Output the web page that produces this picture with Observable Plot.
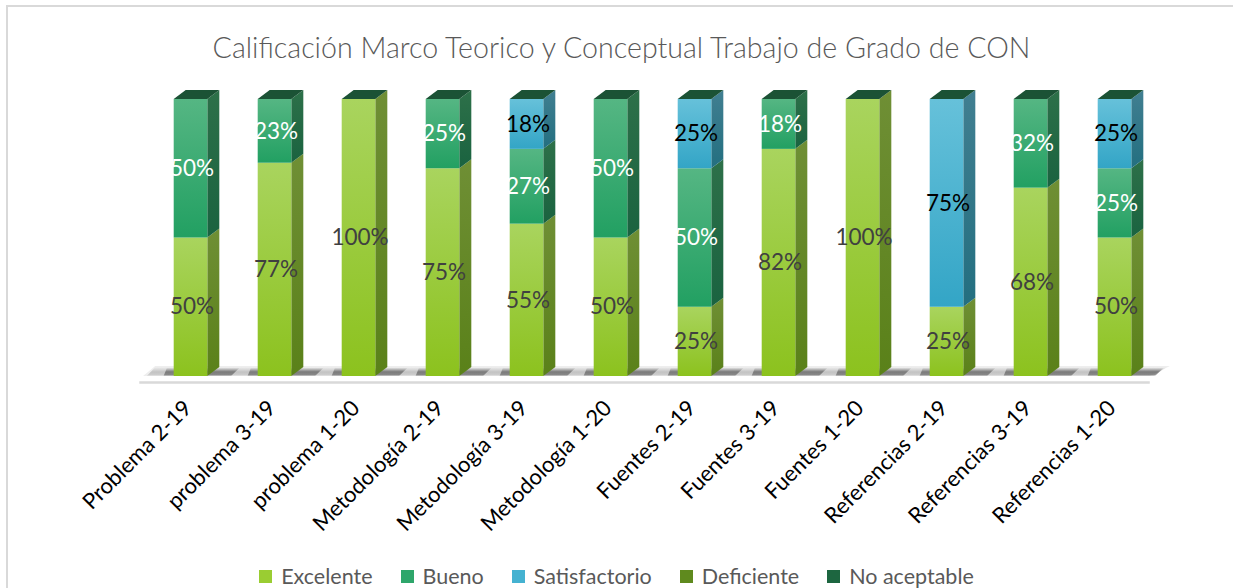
<!DOCTYPE html>
<html>
<head>
<meta charset="utf-8">
<script src="https://cdn.jsdelivr.net/npm/d3@7"></script>
<script src="https://cdn.jsdelivr.net/npm/@observablehq/plot@0.6"></script>
<style>
  html, body { margin: 0; padding: 0; background: #fff; }
  body { width: 1233px; height: 588px; position: relative; overflow: hidden; font-family: Lato, "Noto Sans", sans-serif; }
  #frame { position: absolute; left: 6px; top: 5px; width: 1300px; height: 700px; border: 2px solid #d9d9d9; box-sizing: border-box; }
  #title { position: absolute; left: 0; top: 0; width: 1243px; height: 80px; line-height: 94px; text-align: center; font-size: 28.6px; color: #595959; font-weight: 300; }
  #chart { position: absolute; left: 0; top: 80px; }
  #legend { position: absolute; left: 0; top: 540px; width: 1233px; height: 48px; display: flex; justify-content: center; align-items: center; padding-top: 24px; box-sizing: border-box; font-size: 21.5px; color: #595959; padding-left: 0px; }
  .item { display: flex; align-items: center; margin: 0 14px; }
  .sw { width: 13px; height: 13px; margin-right: 9px; }
</style>
</head>
<body>
<div id="frame"></div>
<div id="title">Calificación Marco Teorico y Conceptual Trabajo de Grado de CON</div>
<div id="chart"></div>
<div id="legend"></div>
<script>
// ---- data ----
const categories = ["Problema 2-19", "problema 3-19", "problema 1-20", "Metodología 2-19", "Metodología 3-19", "Metodología 1-20", "Fuentes 2-19", "Fuentes 3-19", "Fuentes 1-20", "Referencias 2-19", "Referencias 3-19", "Referencias 1-20"];
const seriesNames = ["Excelente", "Bueno", "Satisfactorio", "Deficiente", "No aceptable"];
const excelente     = [50, 77, 100, 75, 55, 50, 25, 82, 100, 25, 68, 50];
const bueno         = [50, 23, 0, 25, 27, 50, 50, 18, 0, 0, 32, 25];
const satisfactorio = [0, 0, 0, 0, 18, 0, 25, 0, 0, 75, 0, 25];
const deficiente    = [0, 0, 0, 0, 0, 0, 0, 0, 0, 0, 0, 0];
const noAceptable   = [0, 0, 0, 0, 0, 0, 0, 0, 0, 0, 0, 0];
const seriesValues = [excelente, bueno, satisfactorio, deficiente, noAceptable];

// ---- style ----
const legendColors = ["#9acd32", "#2ea66b", "#45b2d1", "#5f8a1e", "#1d6640"];
const frontGrad = [["#a9d45e", "#8cc21e"], ["#55b683", "#22a062"], ["#66c1da", "#33a5c6"], ["#6f9a2a", "#5a8119"], ["#2a7a50", "#1b6340"]];
const sideGrad  = [["#6f8f35", "#5a8119"], ["#2d7049", "#1a6340"], ["#417f91", "#236f80"], ["#4d6d1c", "#3f5d13"], ["#1a5234", "#144a2e"]];
const labelFill = ["#404040", "#ffffff", "#000000", "#404040", "#ffffff"];
const topColor = "#1b5235";

// geometry in data units (x: index, y: percent)
const HW = 0.2, DX = 0.143, DY = 3.25;

// ---- build segments ----
const segs = [];
categories.forEach((c, i) => {
  let lo = 0;
  seriesValues.forEach((vals, s) => {
    const v = vals[i];
    if (v > 0) segs.push({i, s, v, lo, hi: lo + v});
    lo += v;
  });
});
const sidePts = segs.flatMap(d => [
  {key: d.i + "-" + d.s, s: d.s, x: d.i + HW, y1: d.lo, y2: d.hi},
  {key: d.i + "-" + d.s, s: d.s, x: d.i + HW + DX, y1: d.lo + DY, y2: d.hi + DY}
]);
const tops = categories.flatMap((c, i) => {
  const t = d3.sum(seriesValues, vals => vals[i]);
  return [{i, y: t, x1: i - HW, x2: i + HW}, {i, y: t + DY, x1: i - HW + DX, x2: i + HW + DX}];
});
const floorPts = [{y: 0, x1: -0.565, x2: 11.42}, {y: 3.6, x1: -0.42, x2: 11.66}];
const shadowPts = [{y: 0, x1: -0.52, x2: 11.46}, {y: 3.2, x1: -0.42, x2: 11.62}];
const barShadows = categories.flatMap((c, i) => [
  {i, y: 0, x1: i - HW - 0.12, x2: i + HW + DX + 0.14},
  {i, y: 3.0, x1: i - HW - 0.08, x2: i + HW + DX + 0.24}
]);

const marks = [
  Plot.areaX(floorPts, {y: "y", x1: "x1", x2: "x2", fill: "#eeeeee"}),
  Plot.areaX(shadowPts, {y: "y", x1: "x1", x2: "x2", fill: "url(#shadowBand)"}),
  Plot.areaX(barShadows, {y: "y", x1: "x1", x2: "x2", z: "i", fill: "url(#shadowBar)"}),
  Plot.ruleY([-2.2], {x1: -0.61, x2: 11.42, stroke: "#d9d9d9", strokeWidth: 2.5}),
];
seriesNames.forEach((name, s) => {
  marks.push(Plot.areaY(sidePts.filter(d => d.s === s), {x: "x", y1: "y1", y2: "y2", z: "key", fill: `url(#side${s})`}));
  marks.push(Plot.rect(segs.filter(d => d.s === s), {x1: d => d.i - HW, x2: d => d.i + HW, y1: "lo", y2: "hi", fill: `url(#front${s})`}));
});
marks.push(Plot.areaX(tops, {y: "y", x1: "x1", x2: "x2", z: "i", fill: topColor}));
marks.push(Plot.text(segs, {x: "i", y: d => (d.lo + d.hi) / 2, text: d => d.v + "%", fill: d => labelFill[d.s], fontSize: 22.5, dx: 1}));
marks.push(Plot.text(categories, {x: (d, i) => i, y: 0, text: d => d, rotate: -45, textAnchor: "end", dy: 28, dx: -3, fontSize: 22, fill: "#000"}));

const svg = Plot.plot({
  width: 1233,
  height: 460,
  marginLeft: 148.5,
  marginRight: 76.5,
  marginTop: 19,
  marginBottom: 164,
  x: {domain: [-0.5, 11.5], axis: null},
  y: {domain: [0, 100], axis: null},
  color: {type: "identity"},
  style: {fontFamily: "Lato, 'Noto Sans', sans-serif", background: "transparent", overflow: "visible"},
  marks
});

// gradients
const defs = d3.select(svg).insert("defs", ":first-child");
function grad(id, stops, horizontal) {
  const g = defs.append("linearGradient").attr("id", id).attr("x1", 0).attr("y1", 0)
    .attr("x2", horizontal ? 1 : 0).attr("y2", horizontal ? 0 : 1);
  stops.forEach(([o, c, op]) => g.append("stop").attr("offset", o).attr("stop-color", c).attr("stop-opacity", op == null ? 1 : op));
}
frontGrad.forEach((c, s) => grad("front" + s, [["0%", c[0]], ["100%", c[1]]]));
sideGrad.forEach((c, s) => grad("side" + s, [["0%", c[0]], ["100%", c[1]]]));
grad("shadowBand", [["0%", "#666", 0], ["55%", "#666", 0.32], ["85%", "#666", 0.25], ["100%", "#666", 0.05]]);
grad("shadowBar", [["0%", "#333", 0], ["50%", "#333", 0.5], ["85%", "#333", 0.45], ["100%", "#333", 0.1]]);

document.getElementById("chart").appendChild(svg);

// legend
const legend = d3.select("#legend");
seriesNames.forEach((name, s) => {
  const it = legend.append("div").attr("class", "item");
  it.append("div").attr("class", "sw").style("background", legendColors[s]);
  it.append("span").text(name);
});
</script>
</body>
</html>
